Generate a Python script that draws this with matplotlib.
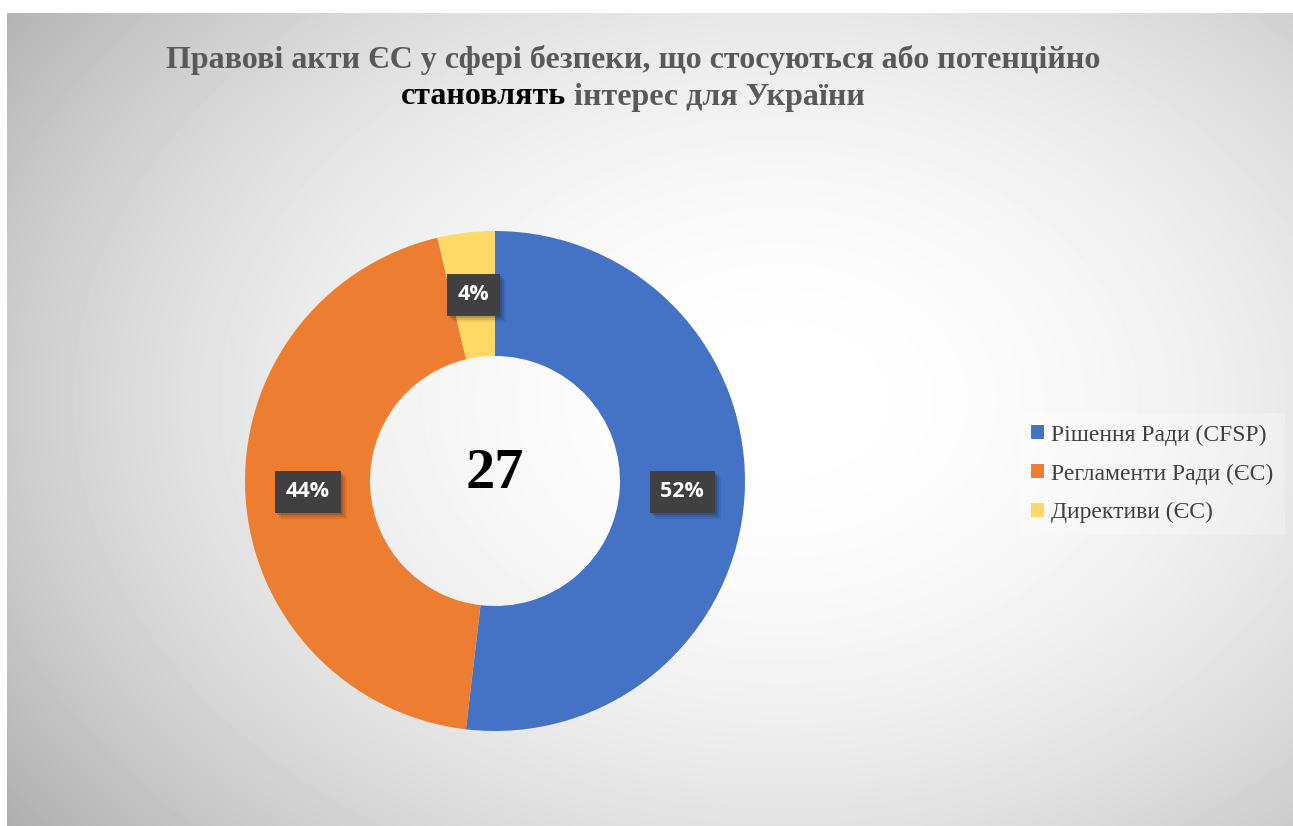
import numpy as np
import matplotlib
matplotlib.use("Agg")
import matplotlib.pyplot as plt
from matplotlib.patches import Patch, Rectangle
from matplotlib.transforms import IdentityTransform

# data
categories = ["Рішення Ради (CFSP)", "Регламенти Ради (ЄС)", "Директиви (ЄС)"]
counts = [14, 12, 1]
colors = ["#4472C4", "#ED7D31", "#FFD966"]
title_1 = "Правові акти ЄС у сфері безпеки, що стосуються або потенційно"
title_2a = "становлять"
title_2b = "інтерес для України"

W, H = 1293, 826
fig = plt.figure(figsize=(W / 100, H / 100), dpi=100, facecolor="white")

# background panel with radial gradient
bg = fig.add_axes([7 / W, 0, (W - 7) / W, (H - 13) / H])
bg.set_axis_off()
yy, xx = np.mgrid[13:H, 7:W]
t = np.sqrt(((xx - 780) / 850.0) ** 2 + ((yy - 400) / 620.0) ** 2)
shade = 255 - 62 * np.clip(t, 0, 1.15) ** 2.0
bg.imshow(shade, cmap="gray", vmin=0, vmax=255, aspect="auto",
          extent=[0, 1, 0, 1], interpolation="bilinear")

# donut
cx, cy, r = 495, 481, 250
ax = fig.add_axes([(cx - r) / W, (H - cy - r) / H, 2 * r / W, 2 * r / H])
ax.pie(counts, colors=colors, startangle=90, counterclock=False, radius=1,
       wedgeprops=dict(width=0.5, linewidth=0))
ax.set_xlim(-1, 1)
ax.set_ylim(-1, 1)
ax.set_aspect("equal")
ax.set_axis_off()

total = sum(counts)
start = 90.0
labels = []
for v in counts:
    span = 360.0 * v / total
    mid = np.deg2rad(start - span / 2)
    start -= span
    x, y = 0.75 * np.cos(mid), 0.75 * np.sin(mid)
    lbl = f"{round(100 * v / total)}%"
    labels.append(ax.text(x, y, lbl, ha="center", va="center", fontsize=15.5,
                          fontweight="bold", family="Open Sans", color="white",
                          zorder=5,
                          bbox=dict(boxstyle="square,pad=0.5", fc="#404040", ec="none")))

ax.text(0, 0.03, str(total), ha="center", va="center", fontsize=42,
        fontweight="bold", family="Liberation Serif", color="black")

# title
fig.text(633 / W, 1 - 60 / H, title_1, ha="center", va="center", fontsize=23,
         fontweight="bold", family="Liberation Serif", color="#595959")
renderer = fig.canvas.get_renderer()
ta = fig.text(0, 1 - 97 / H, title_2a, ha="left", va="center", fontsize=23,
              fontweight="bold", family="Liberation Serif", color="black")
tb = fig.text(0, 1 - 97 / H, " " + title_2b, ha="left", va="center", fontsize=23,
              fontweight="bold", family="Liberation Serif", color="#595959")
wa = ta.get_window_extent(renderer).width
wb = tb.get_window_extent(renderer).width
x0 = 633 - (wa + wb) / 2
ta.set_x(x0 / W)
tb.set_x((x0 + wa) / W)

# legend
handles = [Patch(facecolor=c, edgecolor="none") for c in colors]
leg = fig.legend(handles, categories, loc="center left",
                 bbox_to_anchor=(1019 / W, 1 - 474 / H), frameon=True,
                 prop={"family": "Liberation Serif", "size": 17},
                 handlelength=0.55, handleheight=0.55, handletextpad=0.3,
                 labelspacing=0.75, borderpad=0.5, borderaxespad=0,
                 fancybox=False)
leg.get_frame().set_facecolor("white")
leg.get_frame().set_alpha(0.25)
leg.get_frame().set_edgecolor("none")
for txt in leg.get_texts():
    txt.set_color("#404040")

# soft shadows behind the data labels
fig.canvas.draw()
for lab in labels:
    bb = lab.get_bbox_patch().get_window_extent(renderer)
    for k, a in [(6, 0.07), (4, 0.10), (2, 0.14)]:
        ax.add_patch(Rectangle((bb.x0 + k, bb.y0 - k), bb.width, bb.height,
                               transform=IdentityTransform(), fc="black",
                               ec="none", alpha=a, zorder=4))

fig.savefig("out.png", dpi=100, facecolor="white")
